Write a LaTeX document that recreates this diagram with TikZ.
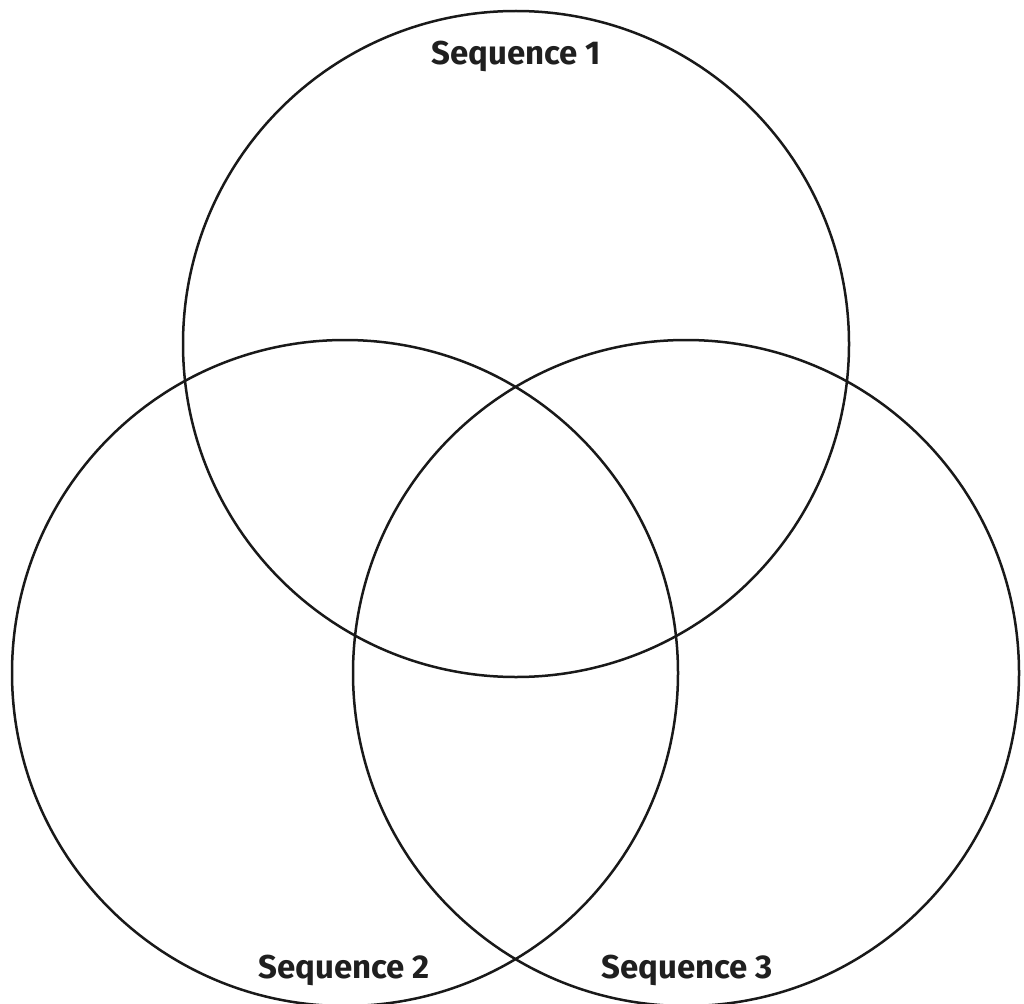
\documentclass[tikz,border=0pt]{standalone}
\usepackage{fontspec}
\setmainfont{Fira Sans}
\begin{document}
\begin{tikzpicture}[x=1pt,y=-1pt,
  ring/.style={draw=black!90, line width=2.5pt},
  lbl/.style={anchor=base, font=\fontsize{33}{36}\selectfont\bfseries, text=black!88, inner sep=0pt}]
\useasboundingbox (0,0) rectangle (1024,1003);
\begin{scope}
\clip (0,0) rectangle (1024,1003);
\draw[ring] (516,344) circle (333);
\draw[ring] (345,673) circle (333);
\draw[ring] (686,673) circle (333);
\end{scope}
\node[lbl] (s1) at (516,65) {Sequence 1};
\node[lbl] (s2) at (344,978) {Sequence 2};
\node[lbl] (s3) at (687,978) {Sequence 3};
\end{tikzpicture}
\end{document}
